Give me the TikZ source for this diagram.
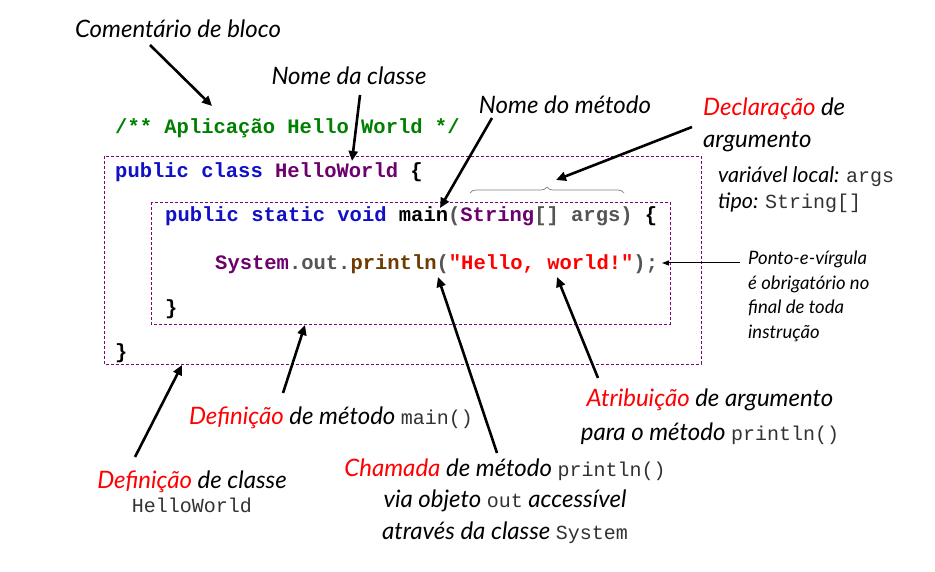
\documentclass[tikz,border=0pt]{standalone}
\usepackage{fontspec}
\setmainfont{Lato}
\setmonofont{Liberation Mono}
\usetikzlibrary{arrows.meta,decorations.pathreplacing}
\definecolor{cgreen}{RGB}{0,128,0}
\definecolor{kwblue}{RGB}{16,16,200}
\definecolor{cpurple}{RGB}{110,0,110}
\definecolor{cgray}{RGB}{85,85,85}
\definecolor{cbrown}{RGB}{110,60,0}
\definecolor{cred}{RGB}{255,0,0}
\definecolor{boxpurple}{RGB}{128,0,128}
\definecolor{monogray}{RGB}{50,50,50}
\tikzset{
  code/.style={anchor=base west, inner sep=0pt, font=\fontsize{20.5}{24}\selectfont\ttfamily\bfseries},
  lbl/.style={inner sep=0pt, anchor=base, font=\fontsize{24}{28}\selectfont\itshape},
  dbox/.style={draw=boxpurple, line width=0.8pt, dash pattern=on 3pt off 2pt},
  bigarrow/.style={line width=2.6pt, -{Triangle[length=10pt,width=9pt]}},
  thinarrow/.style={line width=1pt, -{Triangle[length=7pt,width=5pt]}},
}
\newcommand{\mono}[1]{{\color{monogray}\fontsize{20}{24}\selectfont\ttfamily\upshape\mdseries #1}}
\begin{document}
\begin{tikzpicture}[x=1pt,y=-1pt]
\useasboundingbox[fill=white] (0,0) rectangle (935,572);

% dashed boxes
\draw[dbox] (104,156) rectangle (701,364);
\draw[dbox] (151,202) rectangle (670,324);

% code
\node[code] (c1) at (115,134) {\color{cgreen}/** Aplicação Hello World */};
\node[code] (c2) at (115,178) {\color{kwblue}public class \color{cpurple}HelloWorld \color{black}\{};
\node[code] (c3) at (165,222) {\color{kwblue}public static void \color{black}main\color{cgray}(\color{cpurple}String\color{cgray}[] args) \color{black}\{};
\node[code] (c4) at (215,270) {\color{cpurple}System\color{cgray}.out.\color{cbrown}println\color{cgray}(\color{cred}"Hello, world!"\color{cgray});};
\node[code] (c5) at (165,314) {\}};
\node[code] (c6) at (115,358) {\}};

% brace
\draw[decorate, decoration={brace, amplitude=6pt}, gray, line width=0.7pt] (470,193) -- (624,193);

% labels (multi-line nodes: base = last line's baseline)
\node[lbl] (lcom) at (178,38) {Comentário de bloco};
\node[lbl] (lnc) at (349,85) {Nome da classe};
\node[lbl] (lnm) at (565,114) {Nome do método};
\node[lbl, anchor=base west, align=left, font=\fontsize{24}{32}\selectfont\itshape] (ldecl) at (703,148) {\textcolor{cred}{Declaração} de\\argumento};
\node[lbl, anchor=base west, font=\fontsize{21.5}{24}\selectfont\itshape] (lvar) at (718,183) {variável local: \mono{args}};
\node[lbl, anchor=base west, font=\fontsize{21.5}{24}\selectfont\itshape] (ltipo) at (718,209) {tipo: \mono{String[]}};
\node[lbl, anchor=base west, align=left, font=\fontsize{18.5}{24.5}\selectfont\itshape] (lpv) at (748,338) {Ponto-e-vírgula\\é obrigatório no\\final de toda\\instrução};
\node[lbl] (ldm) at (331,424) {\textcolor{cred}{Definição} de método \mono{main()}};
\node[lbl, align=center, font=\fontsize{24}{34}\selectfont\itshape] (latr) at (710,440) {\textcolor{cred}{Atribuição} de argumento\\para o método \mono{println()}};
\node[lbl, align=center, font=\fontsize{24}{24}\selectfont\itshape] (ldc) at (192,512) {\textcolor{cred}{Definição} de classe\\\mono{HelloWorld}};
\node[lbl, align=center, font=\fontsize{24}{31.5}\selectfont\itshape] (lch) at (505,539) {\textcolor{cred}{Chamada} de método \mono{println()}\\via objeto \mono{out} accessível\\através da classe \mono{System}};

% arrow coordinates
\coordinate (a1s) at (150,45);  \coordinate (a1e) at (212,106);
\coordinate (a2s) at (360,95);  \coordinate (a2e) at (352,161);
\coordinate (a3s) at (492,118); \coordinate (a3e) at (440,208);
\coordinate (a4s) at (692,127); \coordinate (a4e) at (556,180);
\coordinate (a5s) at (740,263); \coordinate (a5e) at (662,263);
\coordinate (a6s) at (598,378); \coordinate (a6e) at (557,277);
\coordinate (a7s) at (497,453); \coordinate (a7e) at (438,277);
\coordinate (a8s) at (283,393); \coordinate (a8e) at (305,325);
\coordinate (a9s) at (135,457); \coordinate (a9e) at (182,365);

\draw[bigarrow] (a1s) -- (a1e);
\draw[bigarrow] (a2s) -- (a2e);
\draw[bigarrow] (a3s) -- (a3e);
\draw[bigarrow] (a4s) -- (a4e);
\draw[thinarrow] (a5s) -- (a5e);
\draw[bigarrow] (a6s) -- (a6e);
\draw[bigarrow] (a7s) -- (a7e);
\draw[bigarrow] (a8s) -- (a8e);
\draw[bigarrow] (a9s) -- (a9e);
\end{tikzpicture}
\end{document}
